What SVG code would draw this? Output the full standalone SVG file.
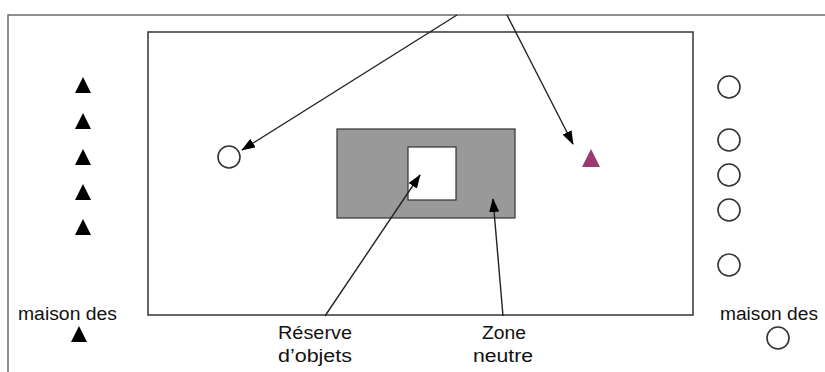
<svg xmlns="http://www.w3.org/2000/svg" width="825" height="372" viewBox="0 0 825 372">
  <style>
    .frame { fill: none; stroke: #6a6a6a; stroke-width: 1.5; }
    .field { fill: none; stroke: #333; stroke-width: 1.5; }
    .zone { fill: #999; stroke: #333; stroke-width: 1.2; }
    .stock { fill: #fff; stroke: #333; stroke-width: 1.2; }
    .pawn { fill: #fff; stroke: #333; stroke-width: 1.6; }
    .tri { fill: #000; }
    .tri-red { fill: #9a3a72; }
    .lbl { font-family: "Liberation Sans", "DejaVu Sans", sans-serif; font-size: 18px; fill: #111; }
    .conn { stroke: #222; stroke-width: 1.4; fill: none; marker-end: url(#arrow); }
  </style>
  <defs>
    <marker id="arrow" viewBox="0 0 14 10" refX="13" refY="5" markerWidth="14" markerHeight="10" markerUnits="userSpaceOnUse" orient="auto">
      <path d="M0,0 L14,5 L0,10 z" fill="#000"/>
    </marker>
  </defs>

  <!-- outer border (top and left edges) -->
  <path class="frame" d="M8,372 V15 H825"/>

  <!-- playing field -->
  <g id="field">
    <rect class="field" x="148" y="32" width="545" height="283"/>
  </g>

  <!-- neutral zone with object reserve -->
  <g id="zone-neutre">
    <rect class="zone" x="337" y="129" width="178" height="89"/>
  </g>
  <g id="reserve">
    <rect class="stock" x="408" y="147" width="48" height="53"/>
  </g>

  <!-- left team (triangles) -->
  <g id="team-triangles">
    <polygon class="tri" points="83,77 75,93 91,93"/>
    <polygon class="tri" points="83,113 75,129 91,129"/>
    <polygon class="tri" points="83,149 75,165 91,165"/>
    <polygon class="tri" points="83,184 75,200 91,200"/>
    <polygon class="tri" points="83,219 75,235 91,235"/>
  </g>

  <!-- right team (circles) -->
  <g id="team-circles">
    <circle class="pawn" cx="729" cy="87" r="11"/>
    <circle class="pawn" cx="729" cy="140" r="11"/>
    <circle class="pawn" cx="729" cy="175" r="11"/>
    <circle class="pawn" cx="729" cy="210" r="11"/>
    <circle class="pawn" cx="729" cy="265" r="11"/>
  </g>

  <!-- players on the field -->
  <g id="player-circle">
    <circle class="pawn" cx="229" cy="157" r="11"/>
  </g>
  <g id="player-triangle">
    <polygon class="tri-red" points="591,149 582,167 600,167"/>
  </g>

  <!-- houses -->
  <g id="maison-triangles">
    <text class="lbl" x="18" y="320" textLength="99" lengthAdjust="spacingAndGlyphs">maison des</text>
    <polygon class="tri" points="79,326 71,342 87,342"/>
  </g>
  <g id="maison-circles">
    <text class="lbl" x="720" y="320" textLength="98" lengthAdjust="spacingAndGlyphs">maison des</text>
    <circle class="pawn" cx="778" cy="338" r="11"/>
  </g>

  <!-- labels -->
  <g id="label-reserve">
    <text class="lbl" x="278" y="339" textLength="74" lengthAdjust="spacingAndGlyphs">Réserve</text>
    <text class="lbl" x="278" y="362" textLength="74" lengthAdjust="spacingAndGlyphs">d’objets</text>
  </g>
  <g id="label-zone">
    <text class="lbl" x="482" y="339" textLength="44" lengthAdjust="spacingAndGlyphs">Zone</text>
    <text class="lbl" x="473" y="362" textLength="60" lengthAdjust="spacingAndGlyphs">neutre</text>
  </g>

  <!-- connectors -->
  <g id="connectors">
    <line class="conn" x1="457" y1="15" x2="242" y2="150"/>
    <line class="conn" x1="507" y1="15" x2="573" y2="144"/>
    <line class="conn" x1="325" y1="316" x2="420" y2="175"/>
    <line class="conn" x1="503" y1="316" x2="493" y2="199"/>
  </g>
</svg>
